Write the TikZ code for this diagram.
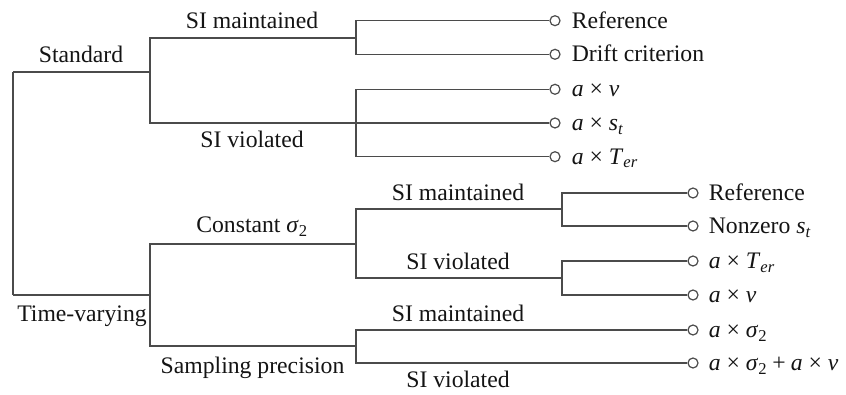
\documentclass[tikz,border=0pt]{standalone}
\usepackage{fontspec}
\setmainfont{Liberation Serif}
\definecolor{linegray}{RGB}{75,75,75}
\definecolor{txt}{RGB}{20,20,20}
\newcommand{\mi}[1]{\textit{#1}}
\newcommand{\sbi}[1]{\textsubscript{\itshape #1}}
\newcommand{\sbr}[1]{\textsubscript{#1}}
\newcommand{\tms}{\hspace{0.25em}×\hspace{0.25em}}
\newcommand{\pls}{\hspace{0.22em}+\hspace{0.22em}}
\begin{document}
\begin{tikzpicture}[x=1pt,y=-1pt,
  font=\fontsize{23.7}{28}\selectfont,
  br/.style={draw=linegray, line width=1.5pt},
  leaf/.style={circle, draw=linegray, fill=white, line width=1.2pt, minimum size=10pt, inner sep=0pt},
  lbl/.style={anchor=base, text=txt, inner sep=0pt},
  leaflbl/.style={anchor=base west, text=txt, inner sep=0pt}]
\useasboundingbox (0,0) rectangle (846,395);
% junctions
\coordinate (RT) at (13,72);
\coordinate (RB) at (13,295);
\coordinate (S) at (150,72);
\coordinate (SM) at (356,38);
\coordinate (SV) at (356,123);
\coordinate (T) at (150,295);
\coordinate (C) at (356,244);
\coordinate (P) at (356,346);
\coordinate (CM) at (562,209);
\coordinate (CV) at (562,278);
% connectors
\draw[br] (RT) -- (RB);
\draw[br] (RT) -- (S);
\draw[br] (RB) -- (T);
\draw[br] (S) |- (SM);
\draw[br] (T) |- (C);
\draw[br] (T) |- (P);
\draw[br] (C) |- (CM);
\draw[br] (C) |- (CV);
% leaves
\node[leaf] (l1) at (555,20.7) {};
\node[leaf] (l2) at (555,54.3) {};
\node[leaf] (l3) at (555,89.3) {};
\node[leaf] (l4) at (555,123) {};
\node[leaf] (l5) at (555,156.7) {};
\node[leaf] (m1) at (693,193) {};
\node[leaf] (m2) at (693,226) {};
\node[leaf] (m3) at (693,261) {};
\node[leaf] (m4) at (693,295) {};
\node[leaf] (m5) at (693,330) {};
\node[leaf] (m6) at (693,363) {};
\draw[br] (SM) |- (l1.west);
\draw[br] (SM) |- (l2.west);
\draw[br] (S) |- (l4.west);
\draw[br] (SV) |- (l3.west);
\draw[br] (SV) |- (l5.west);
\draw[br] (CM) |- (m1.west);
\draw[br] (CM) |- (m2.west);
\draw[br] (CV) |- (m3.west);
\draw[br] (CV) |- (m4.west);
\draw[br] (P) |- (m5.west);
\draw[br] (P) |- (m6.west);
% leaf labels
\node[leaflbl] (t1) at ([xshift=11pt,yshift=-7.5pt]l1.east) {Reference};
\node[leaflbl] (t2) at ([xshift=11pt,yshift=-7.5pt]l2.east) {Drift criterion};
\node[leaflbl] (t3) at ([xshift=11pt,yshift=-7.5pt]l3.east) {\mi{a}\tms\mi{ν}};
\node[leaflbl] (t4) at ([xshift=11pt,yshift=-7.5pt]l4.east) {\mi{a}\tms\mi{s}\sbi{t}};
\node[leaflbl] (t5) at ([xshift=11pt,yshift=-7.5pt]l5.east) {\mi{a}\tms\mi{T}\sbi{er}};
\node[leaflbl] (u1) at ([xshift=10pt,yshift=-7.5pt]m1.east) {Reference};
\node[leaflbl] (u2) at ([xshift=10pt,yshift=-7.5pt]m2.east) {Nonzero \mi{s}\sbi{t}};
\node[leaflbl] (u3) at ([xshift=10pt,yshift=-7.5pt]m3.east) {\mi{a}\tms\mi{T}\sbi{er}};
\node[leaflbl] (u4) at ([xshift=10pt,yshift=-7.5pt]m4.east) {\mi{a}\tms\mi{ν}};
\node[leaflbl] (u5) at ([xshift=10pt,yshift=-7.5pt]m5.east) {\mi{a}\tms\mi{σ}\sbr{2}};
\node[leaflbl] (u6) at ([xshift=10pt,yshift=-7.5pt]m6.east) {\mi{a}\tms\mi{σ}\sbr{2}\pls\mi{a}\tms\mi{ν}};
% branch labels
\node[lbl] (bStd) at (81,63) {Standard};
\node[lbl] (bSM) at (252,29) {SI maintained};
\node[lbl] (bSV) at (252,148) {SI violated};
\node[lbl] (bC) at (252,233) {Constant \mi{σ}\sbr{2}};
\node[lbl] (bT) at (82,322) {Time-varying};
\node[lbl] (bP) at (252.5,373) {Sampling precision};
\node[lbl] (bCM) at (458,201) {SI maintained};
\node[lbl] (bCV) at (458,270) {SI violated};
\node[lbl] (bPM) at (458,321) {SI maintained};
\node[lbl] (bPV) at (458,387) {SI violated};
\end{tikzpicture}
\end{document}
